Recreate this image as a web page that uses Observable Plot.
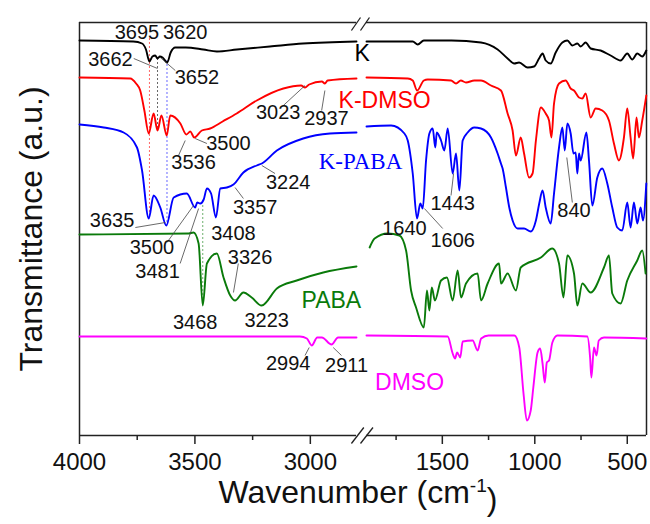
<!DOCTYPE html>
<html><head><meta charset="utf-8">
<script src="https://cdn.jsdelivr.net/npm/d3@7"></script>
<script src="https://cdn.jsdelivr.net/npm/@observablehq/plot@0.6"></script>
<style>body{margin:0;background:#fff;}</style>
</head><body><div id="chart"></div>
<script>
// ---- data: [wavenumber (cm-1), transmittance (a.u.)]
const K = [[4000,395],[3767,394],[3729,392],[3712,386],[3697,374],[3684,379],[3672,380],[3662,377],[3652,379],[3640,378],[3620,373],[3605,383],[3585,388],[3540,388],[3464,386],[3405,384],[3318,386],[3175,389],[3032,392],[2800,394],
[1910,394],[1750,394],[1660,394],[1633,391],[1600,395],[1450,395],[1291,393],[1201,386],[1147,377],[1111,372],[1085,373],[1039,368],[1004,369],[977,377],[958,382],[941,375],[914,372],[887,383],[851,393],[824,395],[797,390],[770,392],[752,389],[725,393],[698,387],[644,385],[590,380],[536,375],[500,382],[473,376],[446,382],[419,379],[397,385]];
const KDMSO = [[4000,358],[3780,357],[3755,352],[3737,345],[3719,325],[3700,302],[3679,322],[3662,305],[3645,320],[3622,300],[3607,320],[3563,312],[3537,301],[3520,304],[3503,298],[3470,305],[3434,307],[3380,314],[3319,322],[3232,335],[3117,347],[3040,350],[3023,348],[3005,351],[2950,354],[2937,352],[2925,355],[2800,357],
[1910,358],[1687,357],[1660,355],[1636,345],[1600,355],[1579,356],[1453,355],[1426,352],[1400,355],[1372,353],[1327,355],[1291,355],[1237,350],[1183,345],[1147,322],[1120,305],[1102,280],[1076,298],[1058,282],[1031,258],[1012,262],[994,295],[967,328],[941,322],[923,315],[910,298],[896,332],[869,352],[833,355],[806,347],[788,345],[761,338],[743,337],[725,342],[698,318],[671,327],[635,325],[599,315],[572,292],[545,275],[518,298],[500,327],[482,298],[468,277],[450,318],[437,298],[419,315],[397,340]];
const KPABA = [[4000,311],[3895,308],[3809,303],[3751,288],[3729,265],[3700,217],[3679,240],[3650,228],[3624,210],[3592,238],[3535,242],[3499,228],[3490,233],[3477,232],[3462,236],[3448,247],[3430,242],[3409,218],[3390,247],[3362,248],[3333,251],[3290,263],[3232,270],[3210,272],[3145,285],[3031,297],[2915,302],[2800,303],
[1910,309],[1777,310],[1705,302],[1687,295],[1660,262],[1637,217],[1619,232],[1606,227],[1588,275],[1570,302],[1552,307],[1538,288],[1530,303],[1507,295],[1489,285],[1471,307],[1444,262],[1426,282],[1408,245],[1390,295],[1363,303],[1327,308],[1291,307],[1237,298],[1201,282],[1183,272],[1174,267],[1156,248],[1138,228],[1120,215],[1093,207],[1058,207],[1022,204],[994,215],[976,232],[958,245],[941,228],[914,212],[896,242],[869,288],[851,308],[838,285],[824,312],[806,302],[791,282],[779,283],[770,262],[761,282],[752,275],[721,303],[707,275],[689,230],[662,258],[635,267],[608,252],[581,228],[554,208],[527,205],[500,233],[482,208],[464,233],[446,212],[428,228],[415,215],[397,252]];
const PABA = [[4000,201],[3527,202],[3506,203],[3484,192],[3466,130],[3448,172],[3405,182],[3376,158],[3347,140],[3326,135],[3290,143],[3254,138],[3211,130],[3145,147],[3059,155],[2944,163],[2800,169],
[1893,188],[1866,197],[1795,202],[1732,200],[1696,185],[1669,145],[1642,128],[1600,108],[1583,145],[1570,125],[1557,148],[1540,135],[1507,155],[1475,158],[1444,135],[1417,165],[1399,138],[1372,152],[1309,162],[1291,135],[1255,152],[1193,172],[1183,152],[1147,162],[1102,145],[1076,168],[967,178],[905,187],[869,172],[845,138],[824,180],[788,162],[770,130],[743,152],[698,143],[626,168],[599,180],[581,142],[536,132],[500,155],[446,175],[419,185],[401,162]];
const DMSO = [[4000,99],[3045,99],[3015,97],[2994,90],[2970,98],[2950,98],[2908,91],[2880,98],[2800,98],
[1910,100],[1471,99],[1444,82],[1431,77],[1420,83],[1403,78],[1390,94],[1336,95],[1309,85],[1290,97],[1250,100],[1110,100],[1084,88],[1061,42],[1043,15],[1022,25],[1008,48],[985,83],[971,87],[958,72],[946,53],[935,73],[923,75],[905,93],[878,100],[716,99],[701,78],[694,58],[680,88],[666,80],[654,95],[626,98],[397,97]];

const seriesNames = ["K","K-DMSO","K-PABA","PABA","DMSO"];
const seriesLabelAt = [[2293,382],[1812,335],[2444,274],[2909,135],[1677,53]];

const majorTicks = [4000,3500,3000,1500,1000,500];
const minorTicks = [3750,3250,1750,1250,750];

const peakText = ["3695","3620","3662","3652","3023","2937","3500","3536","3224","3357","3635","3408","3500","3481","3326","3468","3223","2994","2911","1443","1640","1606","840"];
const peakAt = [[3751,403],[3542,403],[3866,376],[3491,358],[3139,323],[2930,317],[3355,292],[3506,273],[3096,253],[3239,228],[3859,215],[3333,202],[3686,188],[3662,164],[3261,178],[3499,113],[3189,115],[3096,72],[2843,70],[1444,232],[1705,207],[1444,195],[788,225]];
const leaders = [[3765,377,3662,367],[3650,378,3585,365],[3117,330,3023,350],[2951,325,2937,345],[3571,280,3542,295],[3448,292,3499,297],[3153,262,3210,270],[3290,237,3326,248],[3758,208,3628,213],[3621,193,3506,230],[3564,172,3484,227],[3312,172,3333,143],[3023,80,3005,88],[2865,80,2901,88],[1453,240,1439,262],[1498,207,1597,227],[797,233,827,278]];
const guides = [[3697,397,217,"K-DMSO"],[3662,377,305,"K"],[3621,375,212,"K-PABA"],[3466,230,130,"PABA"]];
const breakMarks = [[2822,405,2444,418],[2444,405,1894,418],[2822,-8,2150,8],[2444,-8,1875,8]];

// ---- build table
const spectraData = [K, KDMSO, KPABA, PABA, DMSO];
const rows = spectraData.flatMap((pts, i) => pts.map(([wn, t]) => ({series: seriesNames[i], seg: wn > 2300 ? "hi" : "lo", wn, t})));
const colors = ["#000000","#ff0000","#0000ff","#0a7a0a","#ff00ff"];
const labels = seriesNames.map((s, i) => ({s, x: seriesLabelAt[i][0], y: seriesLabelAt[i][1]}));
const frameColor = "#222";

const chart = Plot.plot({
  width: 650, height: 524,
  marginLeft: 79, marginRight: 4, marginTop: 22, marginBottom: 89,
  style: {fontFamily: '"Liberation Sans", Arial, sans-serif', background: "#fff", color: "#111"},
  x: {type: "linear", domain: [4000, 2800, 1910, 396], range: [79, 356, 366, 646], label: null},
  y: {domain: [0, 413], axis: null, label: null},
  color: {domain: seriesNames, range: colors},
  marks: [
    // frame (broken axis)
    Plot.ruleY([413, 0], {x1: 4000, x2: 2800, stroke: frameColor, strokeWidth: 1.5}),
    Plot.ruleY([413, 0], {x1: 1910, x2: 396, stroke: frameColor, strokeWidth: 1.5}),
    Plot.ruleX([4000, 396], {y1: 0, y2: 413, stroke: frameColor, strokeWidth: 1.5}),
    Plot.link(breakMarks, {x1: d => d[0], y1: d => d[1], x2: d => d[2], y2: d => d[3], stroke: frameColor, strokeWidth: 1.3}),
    Plot.axisX({ticks: majorTicks, tickSize: 9, tickPadding: 8, fontSize: 24, tickFormat: d => `${d}`, label: null, stroke: frameColor, strokeWidth: 1.5}),
    Plot.axisX({ticks: minorTicks, tickSize: 5, tickFormat: () => "", label: null, stroke: frameColor, strokeWidth: 1.5}),
    // dotted guides
    Plot.ruleX(guides, {x: d => d[0], y1: d => d[1], y2: d => d[2], stroke: d => d[3], strokeDasharray: "2,2", strokeWidth: 1, strokeOpacity: 0.6}),
    // spectra
    Plot.line(rows, {x: "wn", y: "t", z: d => d.series + d.seg, stroke: "series", strokeWidth: 1.9, curve: "monotone-x"}),
    // leader lines and peak labels
    Plot.link(leaders, {x1: d => d[0], y1: d => d[1], x2: d => d[2], y2: d => d[3], stroke: "#444", strokeWidth: 0.8}),
    Plot.text(peakText, {x: (d, i) => peakAt[i][0], y: (d, i) => peakAt[i][1], text: d => d, fontSize: 20, fill: "#111"}),
    // series labels
    Plot.text(labels.filter(d => d.s !== "K-PABA"), {x: "x", y: "y", text: "s", fill: "s", fontSize: 23}),
    Plot.text(labels.filter(d => d.s === "K-PABA"), {x: "x", y: "y", text: "s", fill: "s", fontSize: 23, fontFamily: '"Liberation Serif", "Times New Roman", serif'}),
    // axis titles
    Plot.text(["Wavenumber (cm-1)"], {frameAnchor: "bottom", textAnchor: "middle", lineAnchor: "middle", dy: 57, dx: -5, fontSize: 32, fill: "#111"}),
    Plot.text(["Transmittance (a.u.)"], {frameAnchor: "left", textAnchor: "middle", lineAnchor: "middle", dx: -48, rotate: -90, fontSize: 32, fill: "#111"})
  ]
});

// superscript for cm-1
d3.select(chart).selectAll("text").filter(function() { return this.textContent === "Wavenumber (cm-1)"; }).each(function() {
  const t = d3.select(this);
  t.text("Wavenumber (cm");
  t.append("tspan").attr("dy", "-0.55em").attr("font-size", "0.6em").text("-1");
  t.append("tspan").attr("dy", "0.55em").text(")");
});

document.getElementById("chart").appendChild(chart);
</script>
</body></html>
